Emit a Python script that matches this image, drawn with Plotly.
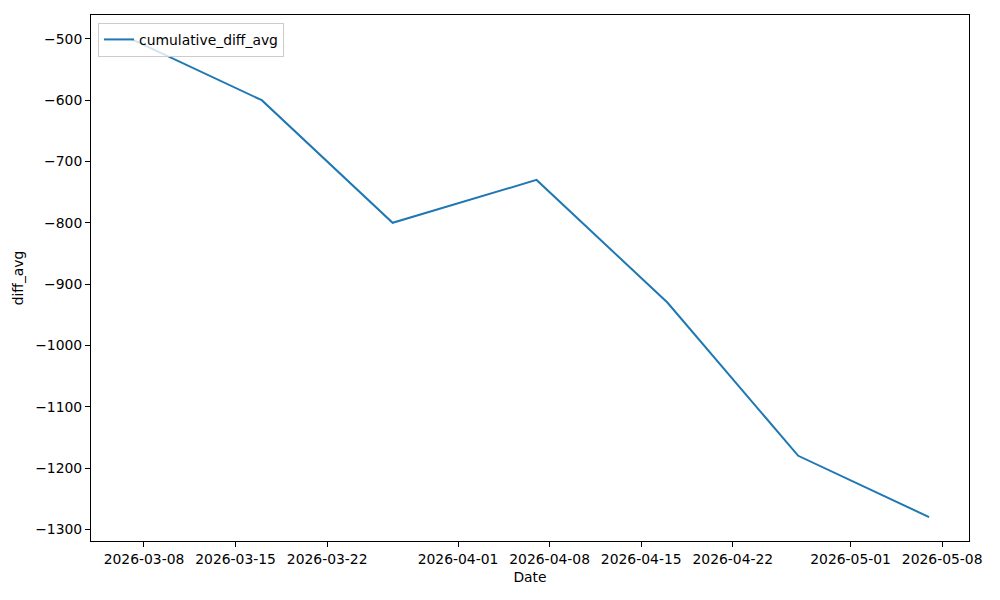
import plotly.graph_objects as go

dates = ["2026-03-07", "2026-03-17", "2026-03-27", "2026-04-07",
         "2026-04-17", "2026-04-27", "2026-05-07"]
diff_avg = [-500, -600, -800, -730, -930, -1180, -1280]

x_tickvals = ["2026-03-08", "2026-03-15", "2026-03-22", "2026-04-01",
              "2026-04-08", "2026-04-15", "2026-04-22", "2026-05-01", "2026-05-08"]
y_tickvals = [-500, -600, -700, -800, -900, -1000, -1100, -1200, -1300]

FONT = "DejaVu Sans"
FS = 13.9

fig = go.Figure()
fig.add_trace(go.Scatter(
    x=dates, y=diff_avg, mode="lines", name="cumulative_diff_avg",
    line=dict(color="#1f77b4", width=2),
))

axis_common = dict(
    showline=True, linecolor="black", linewidth=1, mirror=True,
    ticks="outside", ticklen=5, tickwidth=1, tickcolor="black",
    showgrid=False, zeroline=False, automargin=False,
    tickfont=dict(family=FONT, size=FS, color="black"),
)

# page body has an 8px default margin, so the figure is shrunk by 8px
fig.update_layout(
    width=992, height=592,
    paper_bgcolor="white", plot_bgcolor="white",
    margin=dict(l=83, r=31, t=7, b=59),
    font=dict(family=FONT, size=FS, color="black"),
    showlegend=True,
    legend=dict(
        x=0.008, y=0.985, xanchor="left", yanchor="top",
        bordercolor="#cccccc", borderwidth=1, bgcolor="rgba(255,255,255,0.8)",
        font=dict(family=FONT, size=FS, color="black"),
    ),
    xaxis=dict(
        **axis_common,
        type="date",
        range=["2026-03-03 22:48", "2026-05-10 01:12"],
        tickvals=x_tickvals, ticktext=x_tickvals,
        title=dict(text="Date", font=dict(family=FONT, size=FS), standoff=6),
    ),
    yaxis=dict(
        **axis_common,
        range=[-1319, -461],
        tickvals=y_tickvals,
        ticktext=["\u2212" + str(abs(v)) for v in y_tickvals],
        title=dict(text="diff_avg", font=dict(family=FONT, size=FS), standoff=8),
    ),
)

fig.write_html("out.html")
